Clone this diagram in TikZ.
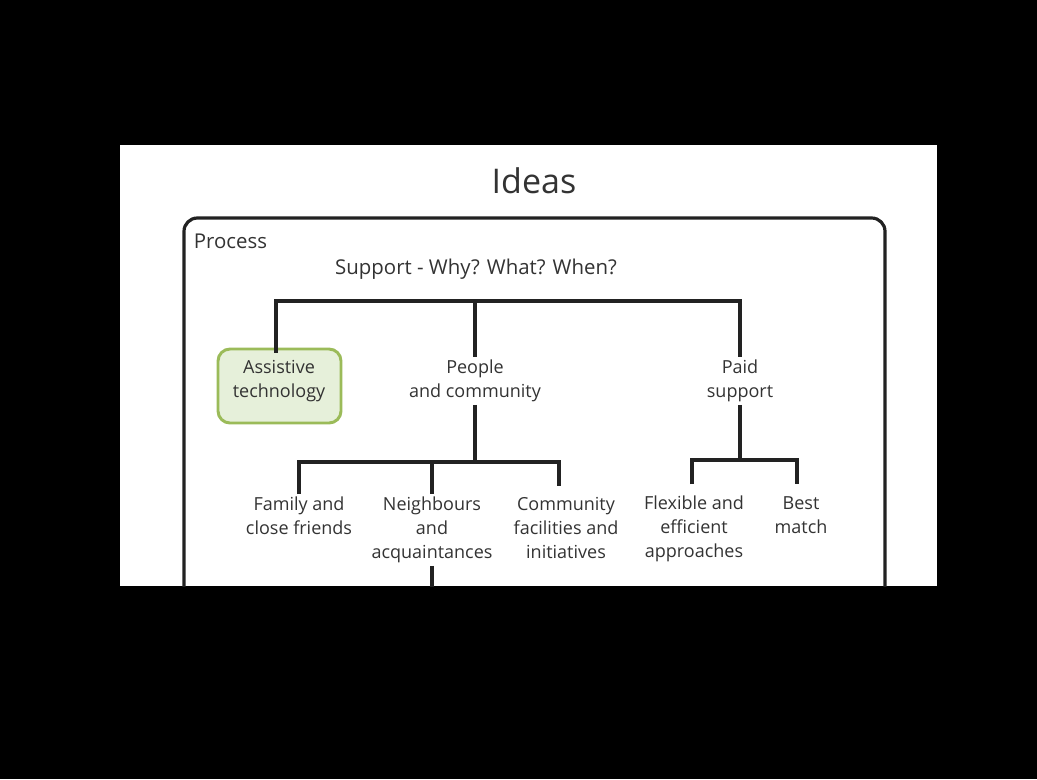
\documentclass[tikz,border=0pt]{standalone}
\usepackage{fontspec}
\setmainfont{Open Sans}
\definecolor{ink}{HTML}{222222}
\definecolor{txt}{HTML}{333333}
\definecolor{gfill}{HTML}{E6F0DA}
\definecolor{gline}{HTML}{9BBB59}
\begin{document}
\begin{tikzpicture}[x=0.75pt,y=-0.75pt,
  lbl/.style={align=center,text=txt,inner sep=2pt,font=\fontsize{13.5}{18}\selectfont},
  head/.style={text=txt,inner sep=2pt,font=\fontsize{15.3}{18}\selectfont},
  conn/.style={draw=ink,line width=2.4pt},
  gbox/.style={draw=gline,fill=gfill,line width=2.2pt,rounded corners=9pt,minimum width=123*0.75pt,minimum height=74*0.75pt}]
\useasboundingbox (0,0) rectangle (1037,779);
\fill[black] (0,0) rectangle (1037,779);
\fill[white] (120,145) rectangle (937,586);
\begin{scope}
\clip (120,145) rectangle (937,586);
\draw[ink,line width=2.4pt,rounded corners=10pt] (184,600) -- (184,218) -- (885,218) -- (885,600);
\node[text=txt,font=\fontsize{25.5}{30}\selectfont] (title) at (534,181) {Ideas};
\node[head,anchor=west] (proc) at (191,241) {Process};
\node[head] (sup) at (476,269) {Support - Why? What? When?};
\node[lbl] (people) at (475,381) {People\\and community};
\node[lbl] (paid) at (740,381) {Paid\\support};
\node[lbl] (fam) at (299,516) {Family and\\close friends};
\node[lbl] (nei) at (432,530) {Neighbours\\and\\acquaintances};
\node[lbl] (com) at (566,528) {Community\\facilities and\\initiatives};
\node[lbl] (flex) at (694,529) {Flexible and\\efficient\\approaches};
\node[lbl] (best) at (801,515) {Best\\match};
\coordinate (b1) at (475,301);
\coordinate (b2) at (475,462);
\coordinate (b3) at (740,460);
\coordinate (down) at (432,600);
\draw[conn] (276,355) |- (b1) -| (paid.north);
\draw[conn] (b1) -- (people.north);
\draw[conn] (people.south) -- (b2);
\draw[conn] (fam.north) |- (b2) -| (559,486);
\draw[conn] (b2 -| nei.north) -- (nei.north);
\draw[conn] (nei.south) -- (down);
\draw[conn] (paid.south) -- (b3);
\draw[conn] (692,484) |- (b3) -| (797,484);
\node[gbox] (at) at (279.5,386) {};
\draw[conn] (b1 -| 276,0) -- ([yshift=-4pt]at.north -| 276,0);
\node[lbl] (attxt) at (279,381) {Assistive\\technology};
\end{scope}
\end{tikzpicture}
\end{document}
